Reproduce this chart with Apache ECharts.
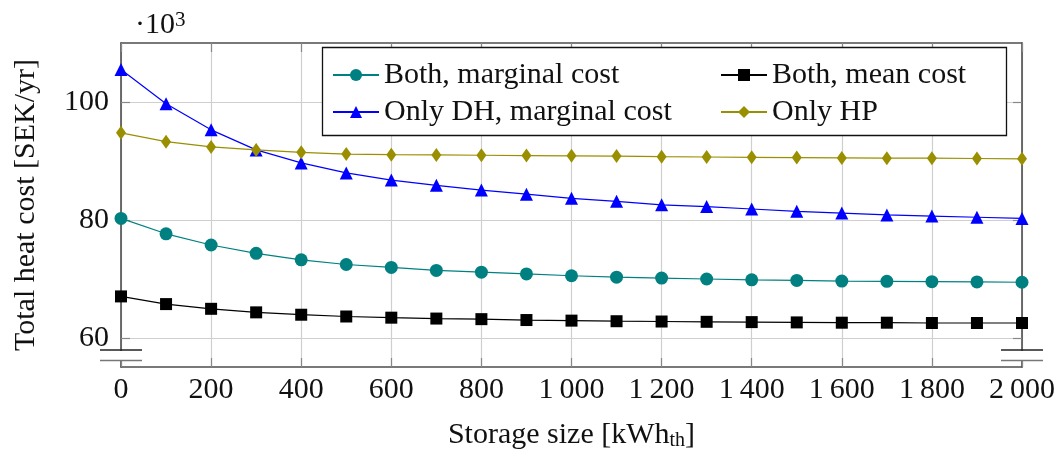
<!DOCTYPE html>
<html>
<head>
<meta charset="utf-8">
<script src="https://cdn.jsdelivr.net/npm/echarts@6/dist/echarts.min.js"></script>
<style>
  html, body { margin: 0; padding: 0; background: #fff; }
  #chart { width: 1060px; height: 456px; }
</style>
</head>
<body>
<div id="chart"></div>
<script>
// Storage sizes in kWh_th
const storageSizes = [0, 100, 200, 300, 400, 500, 600, 700, 800, 900, 1000,
  1100, 1200, 1300, 1400, 1500, 1600, 1700, 1800, 1900, 2000];

// Total heat cost in thousands of SEK per year
const bothMarginal = [80.3, 77.7, 75.8, 74.4, 73.3, 72.5, 72.0, 71.5, 71.2, 70.9, 70.6,
  70.35, 70.2, 70.05, 69.9, 69.8, 69.7, 69.65, 69.6, 69.55, 69.5];
const bothMean = [67.1, 65.8, 65.0, 64.4, 64.0, 63.7, 63.5, 63.35, 63.25, 63.1, 63.0,
  62.9, 62.85, 62.8, 62.75, 62.7, 62.65, 62.65, 62.6, 62.6, 62.6];
const onlyDH = [105.5, 99.7, 95.3, 91.9, 89.7, 88.0, 86.8, 85.9, 85.1, 84.4, 83.7,
  83.2, 82.6, 82.3, 81.9, 81.5, 81.2, 80.9, 80.7, 80.5, 80.3];
const onlyHP = [94.8, 93.3, 92.4, 91.9, 91.5, 91.2, 91.1, 91.05, 91.0, 90.95, 90.9,
  90.85, 90.75, 90.7, 90.65, 90.6, 90.55, 90.5, 90.5, 90.45, 90.4];

const seriesNames = ['Both, marginal cost', 'Both, mean cost', 'Only DH, marginal cost', 'Only HP'];
const yTicks = [60, 80, 100];

const FONT = '"Liberation Serif", "Times New Roman", serif';
const FS = 30;
const AXIS_COLOR = '#4d4d4d';
const GRID_COLOR = '#cfcfcf';

const gridLeft = 121, gridRight = 38, gridTop = 43, gridBottom = 85;
const W = 1060, H = 456;
const axisBottomY = H - gridBottom;
const axisRightX = W - gridRight;

const pairs = ys => storageSizes.map((x, i) => [x, ys[i]]);

function fmtX(v) {
  return v >= 1000 ? String(Math.floor(v / 1000)) + '\u2009' + String(v % 1000).padStart(3, '0') : String(v);
}

const chart = echarts.init(document.getElementById('chart'), null, { renderer: 'canvas' });

const lineSeries = (name, data, color, symbol, size) => ({
  name, type: 'line', data: pairs(data),
  symbol, symbolSize: size, showSymbol: true,
  lineStyle: { color, width: 1.2 },
  itemStyle: { color, borderWidth: 0 },
  emphasis: { disabled: true },
  animation: false, z: 3
});

// Parallel-line discontinuity marks at the bottom of both y axes
function breakMarks(x0) {
  return [
    { type: 'rect', shape: { x: x0 - 3, y: axisBottomY - 20, width: 6, height: 9 },
      style: { fill: '#fff' }, z: 10 },
    { type: 'line', shape: { x1: x0 - 21, y1: axisBottomY - 21, x2: x0 + 21, y2: axisBottomY - 21 },
      style: { stroke: '#222', lineWidth: 1.3 }, z: 11 },
    { type: 'line', shape: { x1: x0 - 21, y1: axisBottomY - 10.5, x2: x0 + 21, y2: axisBottomY - 10.5 },
      style: { stroke: '#777', lineWidth: 1.6 }, z: 11 }
  ];
}

const legendText = { fontFamily: FONT, fontSize: FS, color: '#111', lineHeight: 30 };

const option = {
  backgroundColor: '#fff',
  animation: false,
  textStyle: { fontFamily: FONT },
  grid: { left: gridLeft, right: gridRight, top: gridTop, bottom: gridBottom, containLabel: false },
  title: {
    text: '·10{sup|3}',
    left: 130, top: 5,
    textStyle: {
      fontFamily: FONT, fontSize: FS, fontWeight: 'normal', color: '#111',
      rich: { sup: { fontFamily: FONT, fontSize: 21, color: '#111', verticalAlign: 'top', padding: [0, 0, 10, 0] } }
    }
  },
  legend: [
    {
      data: [seriesNames[0], seriesNames[2]],
      orient: 'vertical', left: 327, top: 55, z: 20,
      itemWidth: 46, itemHeight: 15, itemGap: 7,
      textStyle: legendText,
      selectedMode: false
    },
    {
      data: [seriesNames[1], seriesNames[3]],
      orient: 'vertical', left: 715, top: 55, z: 20,
      itemWidth: 46, itemHeight: 15, itemGap: 7,
      textStyle: legendText,
      selectedMode: false
    }
  ],
  xAxis: [
    {
      type: 'value', min: 0, max: 2000, interval: 200,
      name: 'Storage size [kWh{sub|th}]', nameLocation: 'middle', nameGap: 52,
      nameTextStyle: {
        fontFamily: FONT, fontSize: FS, color: '#111',
        rich: { sub: { fontFamily: FONT, fontSize: 20, color: '#111', verticalAlign: 'bottom', padding: [12, 0, 0, 0] } }
      },
      axisLine: { show: true, onZero: false, lineStyle: { color: AXIS_COLOR, width: 1.6 } },
      axisTick: { show: true, inside: true, length: 9, lineStyle: { color: '#888', width: 1.2 } },
      axisLabel: { fontFamily: FONT, fontSize: FS, color: '#111', margin: 8, formatter: fmtX },
      splitLine: { show: true, lineStyle: { color: GRID_COLOR, width: 1.2 } }
    },
    {
      type: 'value', position: 'top', min: 0, max: 2000, interval: 200,
      axisLine: { show: true, onZero: false, lineStyle: { color: AXIS_COLOR, width: 1.6 } },
      axisTick: { show: true, inside: true, length: 9, lineStyle: { color: '#888', width: 1.2 } },
      axisLabel: { show: false },
      splitLine: { show: false }
    }
  ],
  yAxis: [
    {
      type: 'value', min: 55.15, max: 110,
      name: 'Total heat cost [SEK/yr]', nameLocation: 'middle', nameGap: 80,
      nameTextStyle: { fontFamily: FONT, fontSize: FS, color: '#111' },
      axisLine: { show: true, onZero: false, lineStyle: { color: AXIS_COLOR, width: 1.6 } },
      axisTick: { show: true, inside: true, length: 9, customValues: yTicks, lineStyle: { color: '#888', width: 1.2 } },
      axisLabel: { fontFamily: FONT, fontSize: FS, color: '#111', margin: 12, customValues: yTicks },
      splitLine: { show: true, lineStyle: { color: GRID_COLOR, width: 1.2 } }
    },
    {
      type: 'value', position: 'right', min: 55.15, max: 110,
      axisLine: { show: true, onZero: false, lineStyle: { color: AXIS_COLOR, width: 1.6 } },
      axisTick: { show: true, inside: true, length: 9, customValues: yTicks, lineStyle: { color: '#888', width: 1.2 } },
      axisLabel: { show: false, customValues: yTicks },
      splitLine: { show: false }
    }
  ],
  graphic: [
    // legend frame
    { type: 'rect', shape: { x: 322.5, y: 47.5, width: 684, height: 88 },
      style: { fill: '#fff', stroke: '#111', lineWidth: 1.3 }, z: 5 },
    ...breakMarks(gridLeft),
    ...breakMarks(axisRightX)
  ],
  series: [
    lineSeries(seriesNames[0], bothMarginal, '#008080', 'circle', 13),
    lineSeries(seriesNames[1], bothMean, '#000000', 'rect', 12),
    lineSeries(seriesNames[2], onlyDH, '#0000ff', 'triangle', 13),
    lineSeries(seriesNames[3], onlyHP, '#9a8f00', 'diamond', [10, 14])
  ]
};

chart.setOption(option);
</script>
</body>
</html>
